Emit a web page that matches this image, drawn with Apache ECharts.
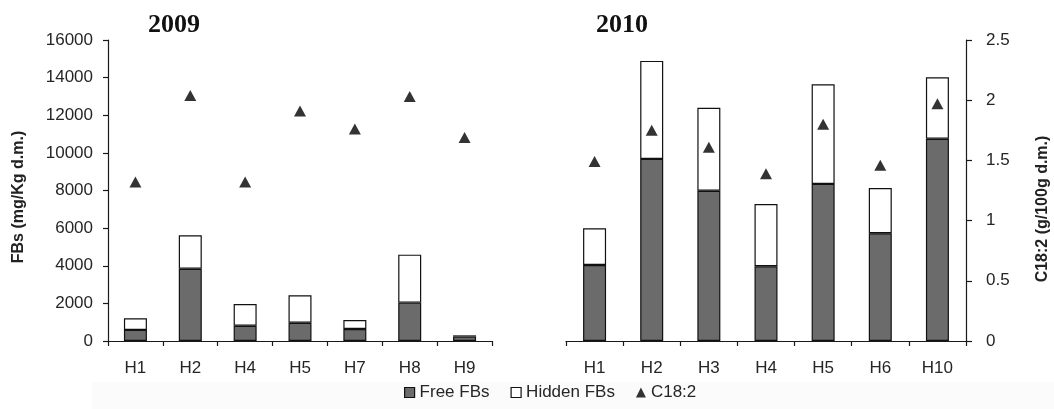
<!DOCTYPE html>
<html>
<head>
<meta charset="utf-8">
<style>
  html, body { margin: 0; padding: 0; background: #fff; }
  #chart { width: 1054px; height: 409px; }
</style>
<script src="https://cdn.jsdelivr.net/npm/echarts@6/dist/echarts.min.js"></script>
</head>
<body>
<div id="chart"></div>
<script>
// 2009 harvest: free and hidden fumonisins (mg/Kg d.m.) and linoleic acid (g/100g d.m.)
const cats2009 = ['H1', 'H2', 'H4', 'H5', 'H7', 'H8', 'H9'];
const free2009 = [590, 3840, 810, 970, 640, 2040, 230];
const hidden2009 = [620, 1780, 1160, 1460, 480, 2550, 70];
const c182_2009 = [1.32, 2.04, 1.32, 1.91, 1.76, 2.03, 1.69];

// 2010 harvest
const cats2010 = ['H1', 'H2', 'H3', 'H4', 'H5', 'H6', 'H10'];
const free2010 = [4040, 9680, 7990, 3970, 8350, 5730, 10750];
const hidden2010 = [1950, 5210, 4410, 3310, 5300, 2400, 3270];
const c182_2010 = [1.49, 1.75, 1.61, 1.39, 1.80, 1.46, 1.97];

// Axis tick settings
const fbsMax = 16000, fbsStep = 2000;
const c18Max = 2.5, c18Step = 0.5;

const SANS = '"Liberation Sans", Arial, sans-serif';
const SERIF = '"Liberation Serif", "Times New Roman", serif';
const INK = '#1a1a1a';
const LABEL = '#262626';
const FREE_FILL = '#6b6b6b';

const lineStyle = { color: INK, width: 1.2 };

function catAxis(gridIndex, data) {
  return {
    type: 'category', gridIndex, data,
    axisLine: { show: true, lineStyle },
    axisTick: { show: true, length: 5, inside: false, lineStyle },
    axisLabel: { margin: 19, fontSize: 17, color: LABEL, fontFamily: SANS },
    splitLine: { show: false }
  };
}

const freeStyle = { color: FREE_FILL, borderColor: '#111', borderWidth: 1.2 };
const hiddenStyle = { color: '#ffffff', borderColor: '#111', borderWidth: 1.2 };
const triStyle = { color: '#000' };

function barSeries(name, xi, yi, stack, data, style) {
  return {
    name, type: 'bar', xAxisIndex: xi, yAxisIndex: yi, stack, data,
    barWidth: 23, itemStyle: style, emphasis: { disabled: true }, z: 2
  };
}
function triSeries(xi, yi, data) {
  return {
    name: 'C18:2', type: 'scatter', xAxisIndex: xi, yAxisIndex: yi, data,
    symbol: 'triangle', symbolSize: [12, 11], itemStyle: triStyle,
    emphasis: { disabled: true }, z: 4
  };
}

const chart = echarts.init(document.getElementById('chart'), null, { renderer: 'canvas' });

chart.setOption({
  animation: false,
  backgroundColor: '#ffffff',
  grid: [
    { left: 108, top: 40, width: 384, height: 301 },
    { left: 566, top: 40, width: 400, height: 301 }
  ],
  xAxis: [catAxis(0, cats2009), catAxis(1, cats2010)],
  yAxis: [
    {
      type: 'value', gridIndex: 0, position: 'left', min: 0, max: fbsMax, interval: fbsStep,
      axisLine: { show: true, lineStyle },
      axisTick: { show: true, length: 5, lineStyle },
      axisLabel: { margin: 15, fontSize: 17, color: LABEL, fontFamily: SANS, formatter: v => String(v) },
      splitLine: { show: false }
    },
    { type: 'value', gridIndex: 0, min: 0, max: c18Max, interval: c18Step, show: false },
    { type: 'value', gridIndex: 1, min: 0, max: fbsMax, interval: fbsStep, show: false },
    {
      type: 'value', gridIndex: 1, position: 'right', min: 0, max: c18Max, interval: c18Step,
      axisLine: { show: true, lineStyle },
      axisTick: { show: true, length: 6, lineStyle },
      axisLabel: { margin: 20, fontSize: 17, color: LABEL, fontFamily: SANS, formatter: v => String(v) },
      splitLine: { show: false }
    }
  ],
  legend: {
    left: 399, top: 379,
    itemWidth: 10, itemHeight: 10, itemGap: 21,
    textStyle: { fontSize: 17, color: LABEL, fontFamily: SANS },
    selectedMode: false,
    data: [
      { name: 'Free FBs', icon: 'rect', itemStyle: freeStyle },
      { name: 'Hidden FBs', icon: 'rect', itemStyle: hiddenStyle },
      { name: 'C18:2', icon: 'triangle', itemStyle: triStyle }
    ]
  },
  graphic: [
    { type: 'rect', shape: { x: 92, y: 382, width: 962, height: 27 }, style: { fill: '#fbfbfb' }, z: 0, silent: true },
    { type: 'text', x: 174, y: 25, style: { text: '2009', font: 'bold 26px ' + SERIF, fill: '#111', align: 'center', verticalAlign: 'middle' } },
    { type: 'text', x: 622, y: 25, style: { text: '2010', font: 'bold 26px ' + SERIF, fill: '#111', align: 'center', verticalAlign: 'middle' } },
    { type: 'text', x: 19, y: 197, rotation: Math.PI / 2, style: { text: 'FBs (mg/Kg d.m.)', font: 'bold 16px ' + SANS, fill: '#222', align: 'center', verticalAlign: 'middle' } },
    { type: 'text', x: 1043, y: 209, rotation: Math.PI / 2, style: { text: 'C18:2 (g/100g d.m.)', font: 'bold 16px ' + SANS, fill: '#222', align: 'center', verticalAlign: 'middle' } }
  ],
  series: [
    barSeries('Free FBs', 0, 0, 'fb2009', free2009, freeStyle),
    barSeries('Hidden FBs', 0, 0, 'fb2009', hidden2009, hiddenStyle),
    triSeries(0, 1, c182_2009),
    barSeries('Free FBs', 1, 2, 'fb2010', free2010, freeStyle),
    barSeries('Hidden FBs', 1, 2, 'fb2010', hidden2010, hiddenStyle),
    triSeries(1, 3, c182_2010)
  ]
});
</script>
</body>
</html>
